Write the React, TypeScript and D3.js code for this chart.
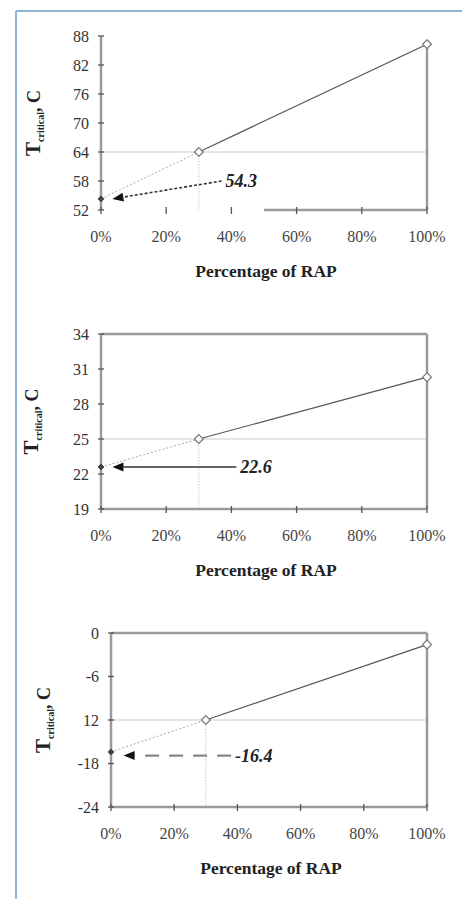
import * as d3 from "d3";

// x positions (percentage of RAP) of the three points
const rapPct = [0, 30, 100];
const xTicks = [0, 20, 40, 60, 80, 100];

// T critical values
const chart1Values = [54.3, 64, 86.3];
const chart2Values = [22.6, 25, 30.3];
const chart3Values = [-16.4, -12, -1.6];

const chart1Ticks = [52, 58, 64, 70, 76, 82, 88];
const chart2Ticks = [19, 22, 25, 28, 31, 34];
const chart3Ticks = [-24, -18, -12, -6, 0];
const chart3TickLabels = ["-24", "-18", "12", "-6", "0"];

const noteLabels = ["54.3", "22.6", "-16.4"];

const FONT = "'Liberation Serif', 'DejaVu Serif', serif";

const panels = [
  {
    values: chart1Values, ticks: chart1Ticks, labels: chart1Ticks.map(String),
    left: 101, right: 427, top: 36, bottom: 210, labelX: 40,
    frame: "open", note: noteLabels[0], from: [37, 58], to: [3.5, 54.3],
    arrow: { dash: "3,2", color: "#333", width: 1.6 },
  },
  {
    values: chart2Values, ticks: chart2Ticks, labels: chart2Ticks.map(String),
    left: 101, right: 427, top: 334, bottom: 509, labelX: 38,
    frame: "box", note: noteLabels[1], from: [41.5, 22.6], to: [3.5, 22.6],
    arrow: { dash: null, color: "#333", width: 1.6 },
  },
  {
    values: chart3Values, ticks: chart3Ticks, labels: chart3TickLabels,
    left: 111, right: 427, top: 633, bottom: 807, labelX: 50,
    frame: "box", note: noteLabels[2], from: [38, -16.9], to: [4, -16.9],
    arrow: { dash: "14,10", color: "#888", width: 2.2 },
  },
];

const Panel = ({ p }) => {
  const ext = d3.extent(p.ticks);
  const x = d3.scaleLinear().domain([0, 100]).range([p.left, p.right]);
  const y = d3.scaleLinear().domain(ext).range([p.bottom, p.top]);
  const pts = rapPct.map((r, i) => [x(r), y(p.values[i])]);
  const line = d3.line();

  const axisCol = "#9a9a9a";
  const tickCol = "#555";

  // arrow head
  const [x0, y0] = [x(p.from[0]), y(p.from[1])];
  const [x1, y1] = [x(p.to[0]), y(p.to[1])];
  const ang = Math.atan2(y1 - y0, x1 - x0);
  const hl = 11, hw = 4.5;
  const bx = x1 - hl * Math.cos(ang), by = y1 - hl * Math.sin(ang);
  const head = `M${x1},${y1}L${bx - hw * Math.sin(ang)},${by + hw * Math.cos(ang)}L${bx + hw * Math.sin(ang)},${by - hw * Math.cos(ang)}Z`;

  const diamond = d3.symbol().type(d3.symbolDiamond2).size(50)();
  const smallDiamond = d3.symbol().type(d3.symbolDiamond2).size(22)();
  const midY = (p.top + p.bottom) / 2;

  return (
    <g>
      {/* grid line at the 30% value and vertical guide */}
      <line x1={p.left} x2={p.right} y1={pts[1][1]} y2={pts[1][1]} stroke="#dcdcdc" strokeWidth={1.5} />
      <line x1={pts[1][0]} x2={pts[1][0]} y1={pts[1][1]} y2={p.bottom} stroke="#c8c8c8" strokeWidth={1} strokeDasharray="1.5,1.5" />

      {/* frame */}
      <line x1={p.left} x2={p.left} y1={p.top} y2={p.bottom} stroke={axisCol} strokeWidth={2.5} />
      {p.frame === "box" ? (
        <g>
          <line x1={p.left} x2={p.right} y1={p.top} y2={p.top} stroke={axisCol} strokeWidth={2.5} />
          <line x1={p.right} x2={p.right} y1={p.top} y2={p.bottom} stroke={axisCol} strokeWidth={2.5} />
          <line x1={p.left} x2={p.right} y1={p.bottom} y2={p.bottom} stroke={axisCol} strokeWidth={2.5} />
        </g>
      ) : (
        <g>
          <line x1={p.right} x2={p.right} y1={pts[2][1]} y2={p.bottom} stroke={axisCol} strokeWidth={2.5} />
          <line x1={x(50)} x2={p.right} y1={p.bottom} y2={p.bottom} stroke={axisCol} strokeWidth={2.5} />
        </g>
      )}

      {/* y ticks */}
      {p.ticks.map((t, i) => (
        <g key={"y" + t}>
          <line x1={p.left - 3} x2={p.left + 3} y1={y(t)} y2={y(t)} stroke={tickCol} strokeWidth={1.3} />
          <text x={p.left - 12} y={y(t) + 5.5} textAnchor="end" fontSize={16} fill="#333" fontFamily={FONT}>{p.labels[i]}</text>
        </g>
      ))}
      {/* x ticks */}
      {xTicks.map((t) => (
        <g key={"x" + t}>
          <line x1={x(t)} x2={x(t)} y1={p.bottom - 3} y2={p.bottom + 4} stroke={tickCol} strokeWidth={1.3} />
          <text x={x(t)} y={p.bottom + 32} textAnchor="middle" fontSize={16} fill="#444" fontFamily={FONT}>{t + "%"}</text>
        </g>
      ))}

      {/* data line */}
      <path d={line([pts[0], pts[1]])} fill="none" stroke="#aaa" strokeWidth={1} strokeDasharray="2,2" />
      <path d={line([pts[1], pts[2]])} fill="none" stroke="#555" strokeWidth={1.2} />
      <path d={smallDiamond} transform={`translate(${pts[0][0]},${pts[0][1]})`} fill="#444" stroke="#444" />
      {pts.slice(1).map((pt, i) => (
        <path key={i} d={diamond} transform={`translate(${pt[0]},${pt[1]})`} fill="#fff" stroke="#777" strokeWidth={1.2} />
      ))}

      {/* annotation */}
      <line x1={x0} y1={y0} x2={bx} y2={by} stroke={p.arrow.color} strokeWidth={p.arrow.width} strokeDasharray={p.arrow.dash || undefined} />
      <path d={head} fill="#111" />
      <text x={x0 + 4} y={y0 + 6} fontSize={18} fontWeight="bold" fontStyle="italic" fill="#222" fontFamily={FONT}>{p.note}</text>

      {/* axis titles */}
      <text x={(p.left + p.right) / 2 + 2} y={p.bottom + 67} textAnchor="middle" fontSize={17.5} fontWeight="bold" fill="#222" fontFamily={FONT}>Percentage of RAP</text>
      <text transform={`translate(${p.labelX},${midY}) rotate(-90)`} textAnchor="middle" fontWeight="bold" fill="#222" fontFamily={FONT}>
        <tspan fontSize={21}>T</tspan>
        <tspan fontSize={10} dy={4}>critical</tspan>
        <tspan fontSize={18} dy={-4}>, C</tspan>
      </text>
    </g>
  );
};

export default function App() {
  return (
    <svg width={462} height={899} style={{ position: "absolute", left: 0, top: 0, background: "#fff" }}>
      <rect x={0} y={0} width={462} height={899} fill="#fff" />
      <line x1={16} x2={462} y1={11} y2={11} stroke="#8fb6d6" strokeWidth={2} />
      <line x1={16} x2={16} y1={11} y2={899} stroke="#8fb6d6" strokeWidth={2} />
      {panels.map((p, i) => (
        <Panel key={i} p={p} />
      ))}
    </svg>
  );
}
